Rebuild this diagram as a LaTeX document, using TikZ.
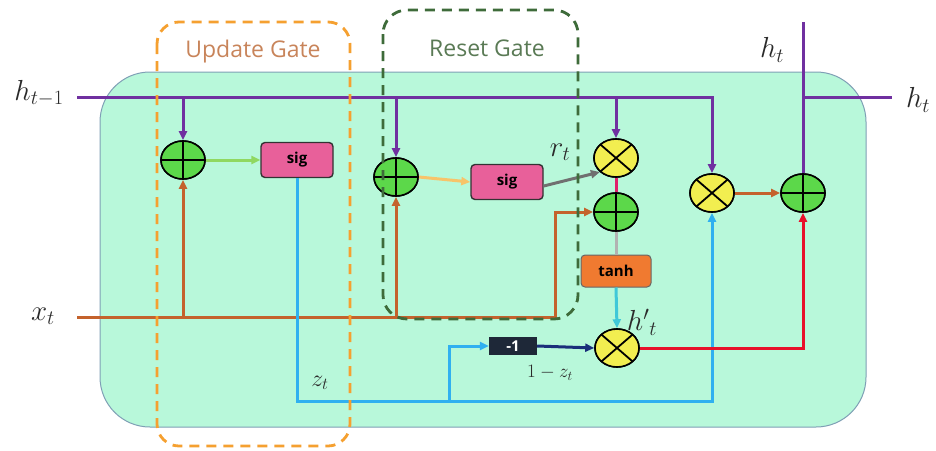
\RequirePackage{fix-cm}
\documentclass[tikz,border=0pt]{standalone}
\usepackage{fontspec}
\setmainfont{Open Sans}
\usetikzlibrary{shapes.geometric,arrows.meta}
\definecolor{cellfill}{HTML}{B8F8DA}
\definecolor{cellborder}{HTML}{7F9FB5}
\definecolor{purp}{HTML}{7030A0}
\definecolor{brownl}{HTML}{C4622C}
\definecolor{sky}{HTML}{30B0F0}
\definecolor{goldl}{HTML}{F7C46A}
\definecolor{lgreen}{HTML}{90D860}
\definecolor{pinkbox}{HTML}{E8609A}
\definecolor{orangebox}{HTML}{F07A30}
\definecolor{negfill}{HTML}{1E2838}
\definecolor{navyl}{HTML}{1A2F7A}
\definecolor{redl}{HTML}{E8102A}
\definecolor{cyanl}{HTML}{40C8D8}
\definecolor{upddash}{HTML}{F5A030}
\definecolor{updtext}{HTML}{C8845A}
\definecolor{rstdash}{HTML}{3E6B3A}
\definecolor{rsttext}{HTML}{5A7A55}
\definecolor{circgreen}{HTML}{5CD84A}
\definecolor{circyellow}{HTML}{F2EE50}
\definecolor{graylink}{HTML}{707070}
\definecolor{magl}{HTML}{E0206A}
\definecolor{labelgray}{HTML}{2A2A2A}
\begin{document}
\begin{tikzpicture}[x=1pt,y=-1pt,
  every node/.style={inner sep=0pt},
  arr/.style={-{Triangle[length=9pt,width=8pt]}},
  wire/.style={line width=3pt},
  plusop/.style={ellipse,draw=black,line width=1.6pt,fill=circgreen,minimum width=44pt,minimum height=38pt,
    path picture={\draw[black,line width=1.8pt] (path picture bounding box.north) -- (path picture bounding box.south)
      (path picture bounding box.west) -- (path picture bounding box.east);}},
  multop/.style={ellipse,draw=black,line width=1.6pt,fill=circyellow,minimum width=44pt,minimum height=38pt,
    path picture={\draw[black,line width=1.8pt] (path picture bounding box.north west) -- (path picture bounding box.south east)
      (path picture bounding box.south west) -- (path picture bounding box.north east);}},
  sigbox/.style={rectangle,rounded corners=4pt,draw=black!80,line width=1.4pt,fill=pinkbox,minimum width=72pt,minimum height=35pt,font=\fontsize{15}{18}\selectfont\bfseries},
  tanhbox/.style={rectangle,rounded corners=4pt,draw=black!60,line width=1pt,fill=orangebox,minimum width=70pt,minimum height=32pt,font=\fontsize{15}{18}\selectfont\bfseries},
  negbox/.style={rectangle,fill=negfill,minimum width=48pt,minimum height=18pt,text=white,font=\fontsize{15}{18}\selectfont\bfseries},
  mlabel/.style={text=labelgray,font=\fontsize{29}{34}\selectfont},
  slabel/.style={text=labelgray,font=\fontsize{24}{28}\selectfont},
  gatelabel/.style={font=\fontsize{23}{27}\selectfont}
]
\useasboundingbox (0,0) rectangle (936,450);
% cell
\draw[fill=cellfill,draw=cellborder,line width=1pt,rounded corners=50pt] (100,72) rectangle (866,427);

% nodes
\node[plusop] (p1) at (183,160) {};
\node[sigbox] (s1) at (297,160) {sig};
\node[plusop] (p2) at (396,177) {};
\node[sigbox] (s2) at (507,182) {sig};
\node[multop] (mr) at (616,158) {};
\node[plusop] (p3) at (616,212) {};
\node[tanhbox] (th) at (616,271) {tanh};
\node[multop] (mh) at (617,348) {};
\node[negbox] (neg) at (513,346) {-1};
\node[multop] (m2) at (712,193) {};
\node[plusop] (p4) at (803,193) {};

% coordinates
\coordinate (hin) at (77,97);
\coordinate (hr) at (892,97);
\coordinate (htop) at (803,22);
\coordinate (xin) at (77,317);
\coordinate (xturn) at (555,317);
\coordinate (zb) at (712,401);
\coordinate (zbr) at (449,401);

% h_{t-1} line
\draw[wire,purp,arr] (hin) -| (m2.north);
\draw[wire,purp,arr] (p1|-hin) -- (p1.north);
\draw[wire,purp,arr] (p2|-hin) -- (p2.north);
\draw[wire,purp,arr] (mr|-hin) -- (mr.north);
% h_t lines
\draw[wire,purp] (htop) -- (p4.north);
\draw[wire,purp] (p4|-hin) -- (hr);

% x_t line
\draw[wire,brownl,arr] (xin) -- (xturn) |- (p3.west);
\draw[wire,brownl,arr] (p1|-xin) -- (p1.south);
\draw[wire,brownl,arr] (p2|-xin) -- (p2.south);

% z_t line
\draw[wire,sky,arr] (s1.south) |- (zb) -- (m2.south);
\draw[wire,sky,arr] (zbr) |- (neg.west);
\draw[wire,navyl,arr] (neg.east) -- (mh.west);

% internal links
\draw[wire,lgreen,arr] (p1.east) -- (s1.west);
\draw[wire,goldl,arr] (p2.east) -- (s2.west);
\draw[wire,graylink,arr] ([yshift=-4pt]s2.east) -- (mr.south west);
\draw[wire,magl] (mr.south) -- (p3.north);
\draw[wire,black!30] (p3.south) -- (th.north);
\draw[wire,cyanl,arr] (th.south) -- (mh.north);
\draw[wire,redl,arr] (mh.east) -| (p4.south);
\draw[wire,brownl,arr] (m2.east) -- (p4.west);

% redraw nodes on top
\node[plusop] at (p1) {};
\node[plusop] at (p2) {};
\node[multop] at (mr) {};
\node[plusop] at (p3) {};
\node[multop] at (mh) {};
\node[multop] at (m2) {};
\node[plusop] at (p4) {};

% labels
\node[mlabel] (lhin) at (39,93) {$h_{t-1}$};
\node[mlabel] (lhr) at (918,100) {$h_t$};
\node[mlabel] (lhtop) at (772,50) {$h_t$};
\node[mlabel] (lxt) at (43,316) {$x_t$};
\node[slabel] (lzt) at (320,383) {$z_t$};
\node[mlabel] (lrt) at (560,152) {$r_t$};
\node[mlabel] (lht) at (642,322) {$h'{}_t$};
\node[text=labelgray,font=\fontsize{19}{22}\selectfont] (l1z) at (550,373) {$1-z_t$};

% gates
\draw[upddash,line width=2.8pt,dash pattern=on 10pt off 7pt,rounded corners=22pt] (157,22) rectangle (350,446);
\node[gatelabel,text=updtext] (lupd) at (253,52) {Update Gate};
\draw[rstdash,line width=2.8pt,dash pattern=on 10pt off 7pt,rounded corners=24pt] (383,10) rectangle (578,319);
\node[gatelabel,text=rsttext] (lrst) at (487,48) {Reset Gate};
\end{tikzpicture}
\end{document}
